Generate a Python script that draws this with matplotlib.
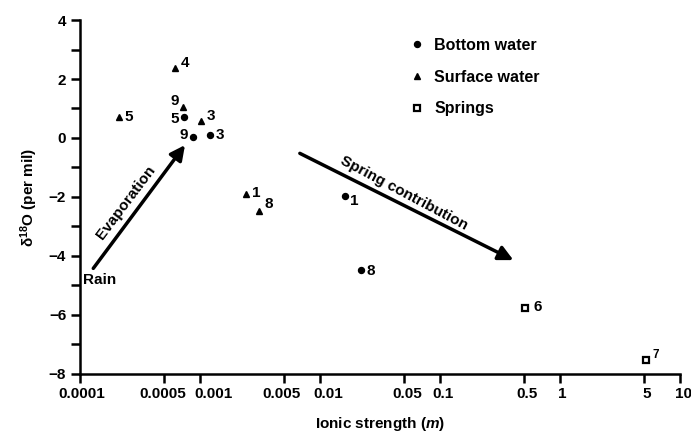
import matplotlib
matplotlib.use('Agg')
import matplotlib.pyplot as plt
from matplotlib.ticker import FixedLocator, FixedFormatter, NullLocator
from matplotlib.transforms import ScaledTranslation

plt.rcParams['font.family'] = ['Liberation Sans', 'DejaVu Sans']
plt.rcParams['font.weight'] = 'bold'
plt.rcParams['mathtext.fontset'] = 'custom'
plt.rcParams['mathtext.rm'] = 'Liberation Sans:bold'
plt.rcParams['mathtext.it'] = 'Liberation Sans:bold:italic'
plt.rcParams['mathtext.bf'] = 'Liberation Sans:bold'

# data
bottom_x = [0.00074, 0.00088, 0.00121, 0.0161, 0.022]
bottom_y = [0.70, 0.04, 0.10, -1.96, -4.47]
bottom_lab = ['5', '9', '3', '1', '8']

surface_x = [0.00062, 0.00072, 0.00021, 0.00102, 0.00242, 0.00312]
surface_y = [2.36, 1.06, 0.72, 0.59, -1.91, -2.46]
surface_lab = ['4', '9', '5', '3', '1', '8']

springs_x = [0.51, 5.18]
springs_y = [-5.77, -7.53]
springs_lab = ['6', '7']

xticks = [0.0001, 0.0005, 0.001, 0.005, 0.01, 0.05, 0.1, 0.5, 1, 5, 10]
xticklabels = ['0.0001', '0.0005', '0.001', '0.005', '0.01', '0.05', '0.1',
               '0.5', '1', '5', '10']

fs = 11

fig = plt.figure(figsize=(6.91, 4.33), dpi=100)
ax = fig.add_axes([0.1158, 0.1363, 0.868, 0.8175])

ax.plot(bottom_x, bottom_y, 'o', color='black', ms=4.3, label='Bottom water')
ax.plot(surface_x, surface_y, '^', color='black', ms=5, label='Surface water')
ax.plot(springs_x, springs_y, 's', mfc='white', mec='black', mew=1.6, ms=4.5,
        label='Springs')

# label offsets in points (dx, dy, ha)
bottom_off = [(-4, -1, 'right'), (-4, 1, 'right'), (4, 0, 'left'),
              (4, -4, 'left'), (4, -1, 'left')]
surface_off = [(4, 4, 'left'), (-3, 4, 'right'), (4, 0, 'left'),
               (4, 3, 'left'), (4, 1, 'left'), (4, 5, 'left')]
springs_off = [(6, 1, 'left'), (5, 4, 'left')]

for xs, ys, labs, offs in [(bottom_x, bottom_y, bottom_lab, bottom_off),
                           (surface_x, surface_y, surface_lab, surface_off),
                           (springs_x, springs_y, springs_lab, springs_off)]:
    for x, y, lab, (dx, dy, ha) in zip(xs, ys, labs, offs):
        size = 8.5 if (xs is springs_x and lab == '7') else fs
        ax.annotate(lab, (x, y), xytext=(dx, dy), textcoords='offset points',
                    ha=ha, va='center', fontsize=size, fontweight='bold')

# arrows
ax.annotate('', xy=(0.00075, -0.24), xytext=(0.000129, -4.42),
            arrowprops=dict(arrowstyle='-|>', lw=2.5, color='black',
                            mutation_scale=22, shrinkA=0, shrinkB=0))
ax.annotate('', xy=(0.41, -4.14), xytext=(0.0068, -0.52),
            arrowprops=dict(arrowstyle='-|>', lw=2.5, color='black',
                            mutation_scale=22, shrinkA=0, shrinkB=0))
ax.text(0.00024, -2.2, 'Evaporation', rotation=53, ha='center', va='center',
        fontsize=fs, fontweight='bold', rotation_mode='anchor')
ax.text(0.05, -1.88, 'Spring contribution', rotation=-28, ha='center',
        va='center', fontsize=fs, fontweight='bold', rotation_mode='anchor')
ax.text(0.000106, -4.81, 'Rain', ha='left', va='center', fontsize=fs,
        fontweight='bold')

ax.set_xscale('log')
ax.set_xlim(0.0001, 10)
ax.set_ylim(-8, 4)
ax.xaxis.set_major_locator(FixedLocator(xticks))
ax.xaxis.set_major_formatter(FixedFormatter(xticklabels))
ax.xaxis.set_minor_locator(NullLocator())
ax.set_yticks([-8, -6, -4, -2, 0, 2, 4])
ax.set_yticks([-7, -5, -3, -1, 1, 3], minor=True)

for side in ['top', 'right']:
    ax.spines[side].set_visible(False)
for side in ['left', 'bottom']:
    ax.spines[side].set_linewidth(1.8)
ax.tick_params(which='both', direction='out', length=6.5, width=1.8,
               labelsize=fs)
ax.tick_params(axis='x', pad=3)

# tick labels: bold, and nudged sideways like the printed original
label_shift_px = [2, -1, 14, -2, 8, 3, 3, 3, 2, 3, 4]
for lab, dpx in zip(ax.get_xticklabels(), label_shift_px):
    lab.set_fontweight('bold')
    lab.set_transform(lab.get_transform() +
                      ScaledTranslation(dpx / 100, 0, fig.dpi_scale_trans))
for lab in ax.get_yticklabels():
    lab.set_fontweight('bold')

ax.set_xlabel('Ionic strength ($m$)', fontsize=fs, fontweight='bold',
              labelpad=10)
ax.set_ylabel('\u03b4$^{18}$O (per mil)', fontsize=fs, fontweight='bold',
              labelpad=6)

leg = ax.legend(loc='upper left', bbox_to_anchor=(0.525, 0.99), frameon=False,
                fontsize=11.5, handletextpad=0.55, labelspacing=1.05,
                handlelength=1.0)
for t in leg.get_texts():
    t.set_fontweight('bold')

fig.savefig('out.png', dpi=100)
